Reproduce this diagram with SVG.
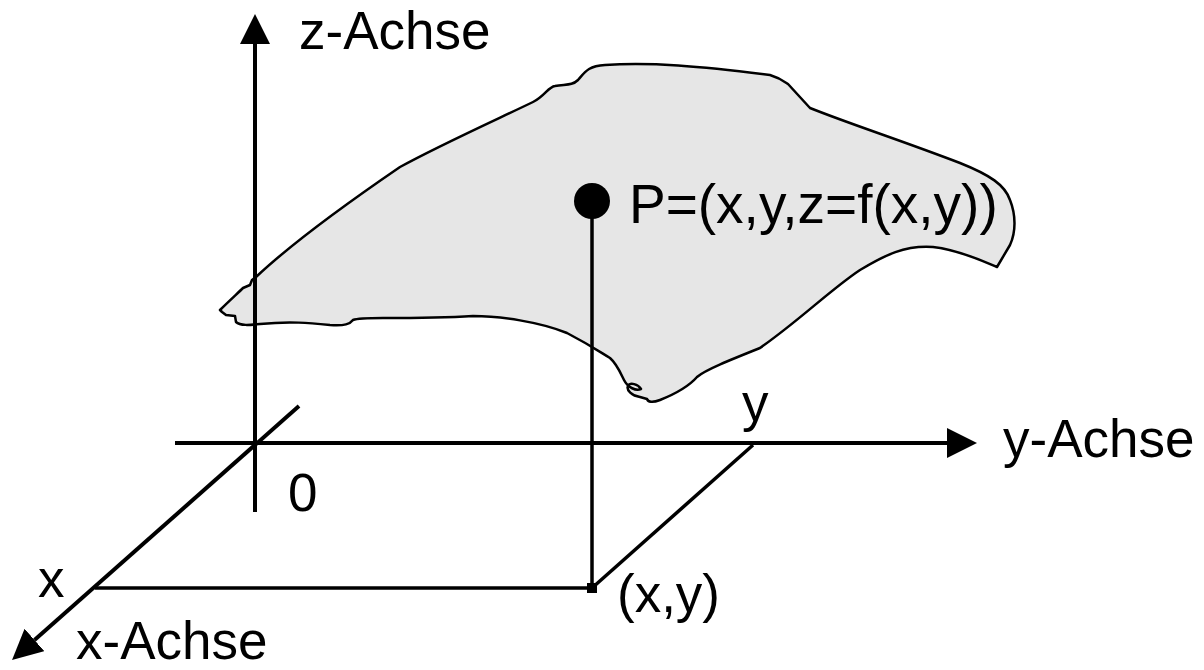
<svg xmlns="http://www.w3.org/2000/svg" width="1204" height="670" viewBox="0 0 1204 670">
<style>
.ax{stroke:#000;stroke-width:4;fill:none}
.ln{stroke:#000;stroke-width:3.5;fill:none}
.t{font-family:"Liberation Sans",Arial,sans-serif;font-size:53px;fill:#000}
.tp{font-size:55px}
.surf{fill:#e6e6e6;stroke:#000;stroke-width:2.5;stroke-linejoin:round}
</style>
<defs>
<marker id="arr" markerUnits="userSpaceOnUse" markerWidth="30" markerHeight="30" viewBox="0 0 30 30" refX="0" refY="15" orient="auto">
<path d="M0,0 L30,15 L0,30 Z" fill="#000"/>
</marker>
</defs>
<g id="surface">
<path class="surf" d="M220,310 C230,300 238,293 243,288 L250,285 L252,280 L256,277 C290,245 340,208 400,167 C440,145 500,118 533,102 C545,96 548,87 555,86 C565,84 572,86 578,80 C585,72 588,66 605,65 C650,62 700,66 770,75 C780,78 785,82 788,84 L810,108 C850,124 900,140 960,163 C990,175 1005,185 1010,200 C1016,215 1016,232 1010,245 L997,267 C985,262 960,250 933,247 C905,245 885,255 860,270 C830,290 800,320 760,348 C730,360 705,370 697,377 C690,385 680,392 660,400 C652,403 648,402 647,399 L640,397 C632,396 626,390 628,386 C630,382 638,384 641,389 C636,391 628,388 624,380 C621,374 617,364 610,358 C600,352 590,345 567,333 C540,322 500,316 473,316 C440,318 400,318 383,318 C370,318 358,318 353,320 C350,324 345,326 330,325 C310,323 290,321 260,324 C250,325 240,326 236,322 L235,316 L226,315 L222,312 Z"/>
</g>
<g id="connectors">
<line class="ax" x1="255" y1="512" x2="255" y2="44" marker-end="url(#arr)"/>
<line class="ax" x1="175" y1="443" x2="947" y2="443" marker-end="url(#arr)"/>
<line class="ax" x1="299" y1="406" x2="34.5" y2="640" marker-end="url(#arr)"/>
<line class="ln" x1="95" y1="588" x2="592" y2="588"/>
<line class="ln" x1="592" y1="588" x2="753" y2="445"/>
<line class="ln" x1="592" y1="588" x2="592" y2="205"/>
</g>
<g id="point-P">
<circle cx="592" cy="201" r="18" fill="#000"/>
<text class="t tp" x="629" y="223">P=(x,y,z=f(x,y))</text>
</g>
<g id="point-xy">
<rect x="587" y="583" width="10" height="10" fill="#000"/>
<text class="t" x="617" y="612">(x,y)</text>
</g>
<g id="labels">
<text class="t" x="299" y="49">z-Achse</text>
<text class="t" x="1003" y="457">y-Achse</text>
<text class="t" x="76" y="659">x-Achse</text>
<text class="t" x="742" y="421">y</text>
<text class="t" x="288" y="511">0</text>
<text class="t" x="38" y="597">x</text>
</g>
</svg>
